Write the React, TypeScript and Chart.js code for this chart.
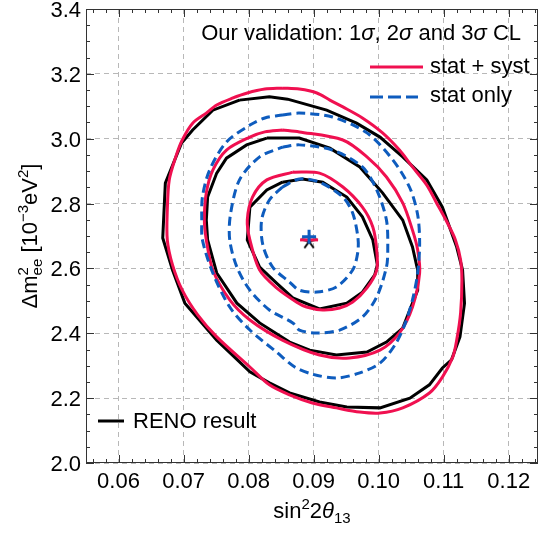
import React, { useEffect, useRef } from "react";
import { Chart, registerables } from "chart.js";

Chart.register(...registerables);

const FONT = '"Liberation Sans", Arial, Helvetica, sans-serif';
const RED = "rgb(240,16,80)";
const BLUE = "rgb(14,92,190)";
const BLACK = "#000000";

// axes
const xTickValues = [0.06, 0.07, 0.08, 0.09, 0.1, 0.11, 0.12];
const yTickValues = [2.0, 2.2, 2.4, 2.6, 2.8, 3.0, 3.2, 3.4];
const xMin = 0.055;
const xMax = 0.1245;
const yMin = 2.0;
const yMax = 3.4;

// RENO result (black polygons)
const renoOuter: [number, number][] = [
  [0.0786, 3.119], [0.0832, 3.129], [0.086, 3.122], [0.092, 3.088], [0.0966, 3.048],
  [0.1002, 3.005], [0.1037, 2.944], [0.1074, 2.873], [0.1098, 2.789], [0.112, 2.666],
  [0.1129, 2.595], [0.1132, 2.493], [0.1125, 2.389], [0.1112, 2.318], [0.1098, 2.293],
  [0.1078, 2.241], [0.1048, 2.2], [0.1002, 2.17], [0.0951, 2.173], [0.0909, 2.188],
  [0.0863, 2.216], [0.0832, 2.247], [0.0802, 2.281], [0.0751, 2.379], [0.0702, 2.493],
  [0.0683, 2.595], [0.0668, 2.694], [0.0672, 2.863], [0.0697, 2.987], [0.0714, 3.027],
  [0.0745, 3.088],
];
const renoMiddle: [number, number][] = [
  [0.0828, 3.002], [0.0878, 3.002], [0.0925, 2.971], [0.0971, 2.913], [0.1006, 2.833],
  [0.1037, 2.749], [0.1052, 2.666], [0.106, 2.595], [0.106, 2.533], [0.1052, 2.493],
  [0.1037, 2.416], [0.1012, 2.373], [0.0982, 2.342], [0.0935, 2.333], [0.0894, 2.348],
  [0.0863, 2.373], [0.0817, 2.432], [0.0782, 2.493], [0.0751, 2.586], [0.0737, 2.688],
  [0.0735, 2.749], [0.0737, 2.82], [0.0751, 2.894], [0.0766, 2.94], [0.0797, 2.981],
];
const renoInner: [number, number][] = [
  [0.0852, 2.866], [0.0883, 2.876], [0.0914, 2.866], [0.0951, 2.82], [0.0975, 2.759],
  [0.0991, 2.688], [0.0998, 2.611], [0.0994, 2.58], [0.0975, 2.527], [0.0951, 2.493],
  [0.0909, 2.475], [0.0868, 2.509], [0.0843, 2.555], [0.0817, 2.604], [0.0798, 2.688],
  [0.0802, 2.789], [0.0828, 2.842],
];

// stat + syst (red)
const systOuter: [number, number][] = [
  [0.0852, 3.156], [0.0878, 3.153], [0.0905, 3.141], [0.0925, 3.119], [0.0945, 3.098],
  [0.0975, 3.064], [0.1006, 3.018], [0.1032, 2.965], [0.1052, 2.913], [0.1074, 2.857],
  [0.1089, 2.802], [0.1105, 2.743], [0.1118, 2.688], [0.1126, 2.626], [0.1128, 2.564],
  [0.1126, 2.463], [0.112, 2.379], [0.1114, 2.327], [0.1098, 2.265], [0.1078, 2.216],
  [0.1037, 2.17], [0.1002, 2.154], [0.0971, 2.157], [0.0935, 2.17], [0.0898, 2.185],
  [0.0863, 2.21], [0.0832, 2.241], [0.0802, 2.296], [0.0751, 2.389], [0.0722, 2.456],
  [0.0698, 2.533], [0.0683, 2.611], [0.0675, 2.688], [0.0675, 2.78], [0.0678, 2.873],
  [0.0688, 2.944], [0.0698, 2.996], [0.0714, 3.048], [0.0735, 3.079], [0.0751, 3.104],
  [0.0775, 3.125], [0.0798, 3.141], [0.0825, 3.153],
];
const systMiddle: [number, number][] = [
  [0.0852, 3.027], [0.0878, 3.021], [0.0945, 2.996], [0.0982, 2.944], [0.1012, 2.882],
  [0.1037, 2.802], [0.1052, 2.718], [0.106, 2.657], [0.1063, 2.586], [0.1052, 2.481],
  [0.1032, 2.401], [0.1002, 2.348], [0.0955, 2.324], [0.0909, 2.333], [0.0852, 2.379],
  [0.0802, 2.441], [0.0771, 2.503], [0.0745, 2.595], [0.0735, 2.688], [0.0732, 2.749],
  [0.0735, 2.833], [0.0745, 2.903], [0.0766, 2.965], [0.0802, 3.005], [0.0825, 3.021],
];
const systInner: [number, number][] = [
  [0.0868, 2.897], [0.0909, 2.894], [0.0945, 2.851], [0.0975, 2.789], [0.0991, 2.728],
  [0.0997, 2.657], [0.0997, 2.595], [0.0982, 2.54], [0.096, 2.496], [0.094, 2.478],
  [0.0914, 2.472], [0.0889, 2.481], [0.0874, 2.496], [0.0843, 2.54], [0.0817, 2.595],
  [0.0802, 2.688], [0.0798, 2.749], [0.0806, 2.82], [0.0828, 2.873],
];

// stat only (blue dashed)
const statOuter: [number, number][] = [
  [0.0852, 3.073], [0.0878, 3.079], [0.0929, 3.067], [0.0982, 3.018], [0.1022, 2.934],
  [0.1048, 2.848], [0.106, 2.765], [0.1063, 2.678], [0.106, 2.586], [0.1052, 2.503],
  [0.104, 2.426], [0.1025, 2.364], [0.1002, 2.308], [0.0971, 2.278], [0.0935, 2.262],
  [0.0898, 2.274], [0.0871, 2.296], [0.0843, 2.342], [0.0802, 2.41], [0.0771, 2.481],
  [0.0745, 2.586], [0.0729, 2.688], [0.0728, 2.749], [0.0729, 2.82], [0.074, 2.903],
  [0.0766, 2.99], [0.0802, 3.042], [0.0825, 3.064],
];
const statMiddle: [number, number][] = [
  [0.0852, 2.974], [0.0878, 2.981], [0.0929, 2.965], [0.0975, 2.913], [0.0997, 2.842],
  [0.1012, 2.749], [0.1014, 2.657], [0.1012, 2.604], [0.0997, 2.512], [0.0975, 2.45],
  [0.094, 2.41], [0.0905, 2.401], [0.0878, 2.41], [0.0868, 2.432], [0.0832, 2.472],
  [0.0802, 2.533], [0.0782, 2.604], [0.0771, 2.688], [0.0772, 2.765], [0.0786, 2.873],
  [0.0817, 2.944],
];
const statInner: [number, number][] = [
  [0.0852, 2.851], [0.0878, 2.876], [0.0909, 2.866], [0.0945, 2.82], [0.096, 2.771],
  [0.0968, 2.697], [0.0968, 2.651], [0.096, 2.595], [0.0935, 2.543], [0.0905, 2.527],
  [0.0878, 2.533], [0.0863, 2.558], [0.0837, 2.604], [0.0822, 2.672], [0.082, 2.749],
  [0.0832, 2.811],
];

// best fit points
const bestFitReno: [number, number] = [0.0893, 2.683];
const bestFitSyst: [number, number] = [0.0893, 2.688];
const bestFitStat: [number, number] = [0.0893, 2.698];

const closed = (pts: [number, number][]) =>
  pts.concat([pts[0]]).map(([x, y]) => ({ x, y }));

function makeAsterisk(color: string, r: number, lw: number) {
  const c = document.createElement("canvas");
  const s = Math.ceil(2 * r + 4);
  c.width = s;
  c.height = s;
  const g = c.getContext("2d")!;
  g.strokeStyle = color;
  g.lineWidth = lw;
  g.lineCap = "butt";
  g.beginPath();
  for (let k = 0; k < 5; k++) {
    const ang = -Math.PI / 2 + (k * 2 * Math.PI) / 5;
    g.moveTo(s / 2, s / 2);
    g.lineTo(s / 2 + r * Math.cos(ang), s / 2 + r * Math.sin(ang));
  }
  g.stroke();
  return c;
}

type Seg = { t: string; size?: number; dy?: number; italic?: boolean; stack?: boolean };

function segFont(s: Seg) {
  return `${s.italic ? "italic " : ""}${s.size ?? 22}px ${FONT}`;
}

function drawRich(
  ctx: CanvasRenderingContext2D,
  segs: Seg[],
  x: number,
  y: number,
  align: "left" | "right" | "center"
) {
  let w = 0;
  let prevStart = 0;
  let prevW = 0;
  const starts: number[] = [];
  for (const s of segs) {
    ctx.font = segFont(s);
    const m = ctx.measureText(s.t).width;
    if (s.stack) {
      starts.push(prevStart);
      const nw = Math.max(prevW, m);
      w = prevStart + nw;
      prevW = nw;
    } else {
      starts.push(w);
      prevStart = w;
      prevW = m;
      w += m;
    }
  }
  const x0 = align === "left" ? x : align === "right" ? x - w : x - w / 2;
  ctx.textAlign = "left";
  ctx.textBaseline = "alphabetic";
  segs.forEach((s, i) => {
    ctx.font = segFont(s);
    ctx.fillText(s.t, x0 + starts[i], y + (s.dy ?? 0));
  });
}

const overlayPlugin = {
  id: "overlay",
  afterDraw(chart: any) {
    const { ctx, chartArea: a, scales } = chart;
    const xs = scales.x;
    const ys = scales.y;
    ctx.save();
    // frame
    ctx.strokeStyle = "#333";
    ctx.lineWidth = 1;
    ctx.setLineDash([]);
    ctx.strokeRect(a.left + 0.5, a.top + 0.5, a.right - a.left - 1, a.bottom - a.top - 1);
    // ticks on all sides, inward
    ctx.beginPath();
    for (let i = 28; i * 0.002 <= xMax + 1e-9; i++) {
      const v = i * 0.002;
      const major = i % 5 === 0;
      const len = major ? 8 : 4;
      const px = Math.round(xs.getPixelForValue(v)) + 0.5;
      ctx.moveTo(px, a.bottom);
      ctx.lineTo(px, a.bottom - len);
      ctx.moveTo(px, a.top);
      ctx.lineTo(px, a.top + len);
    }
    for (let i = 40; i <= 68; i++) {
      const v = i * 0.05;
      const major = i % 4 === 0;
      const len = major ? 8 : 4;
      const py = Math.round(ys.getPixelForValue(v)) + 0.5;
      ctx.moveTo(a.left, py);
      ctx.lineTo(a.left + len, py);
      ctx.moveTo(a.right, py);
      ctx.lineTo(a.right - len, py);
    }
    ctx.stroke();

    ctx.fillStyle = "#000";
    // tick labels from the scales' ticks
    xs.ticks.forEach((t: any) => {
      const px = xs.getPixelForValue(t.value);
      drawRich(ctx, [{ t: Number(t.value).toFixed(2) }], px, a.bottom + 25, "center");
    });
    ys.ticks.forEach((t: any) => {
      const py = ys.getPixelForValue(t.value);
      drawRich(ctx, [{ t: Number(t.value).toFixed(1) }], a.left - 5, py + 8, "right");
    });

    // title
    drawRich(
      ctx,
      [
        { t: "Our validation: 1" },
        { t: "σ", italic: true },
        { t: ", 2" },
        { t: "σ", italic: true },
        { t: " and 3" },
        { t: "σ", italic: true },
        { t: " CL" },
      ],
      521,
      40,
      "right"
    );
    // legend: stat + syst
    ctx.lineWidth = 3;
    ctx.strokeStyle = RED;
    ctx.beginPath();
    ctx.moveTo(370, 67);
    ctx.lineTo(423, 67);
    ctx.stroke();
    drawRich(ctx, [{ t: "stat + syst" }], 430, 73, "left");
    // legend: stat only
    ctx.strokeStyle = BLUE;
    ctx.setLineDash([13, 5]);
    ctx.beginPath();
    ctx.moveTo(370, 97);
    ctx.lineTo(418, 97);
    ctx.stroke();
    ctx.setLineDash([]);
    drawRich(ctx, [{ t: "stat only" }], 430, 102, "left");
    // legend: RENO
    ctx.strokeStyle = BLACK;
    ctx.beginPath();
    ctx.moveTo(98, 421);
    ctx.lineTo(124, 421);
    ctx.stroke();
    drawRich(ctx, [{ t: "RENO result" }], 133, 428, "left");

    // x axis title
    drawRich(
      ctx,
      [
        { t: "sin" },
        { t: "2", size: 15, dy: -9 },
        { t: "2" },
        { t: "θ", italic: true },
        { t: "13", size: 15, dy: 5 },
      ],
      (a.left + a.right) / 2,
      518,
      "center"
    );
    // y axis title
    ctx.save();
    ctx.translate(37, (a.top + a.bottom) / 2);
    ctx.rotate(-Math.PI / 2);
    drawRich(
      ctx,
      [
        { t: "Δm" },
        { t: "2", size: 15, dy: -9 },
        { t: "ee", size: 15, dy: 5, stack: true },
        { t: " [10" },
        { t: "−3", size: 15, dy: -9 },
        { t: "eV" },
        { t: "2", size: 15, dy: -9 },
        { t: "]" },
      ],
      0,
      0,
      "center"
    );
    ctx.restore();
    ctx.restore();
  },
};

export default function App() {
  const ref = useRef<HTMLCanvasElement | null>(null);
  useEffect(() => {
    if (!ref.current) return;
    const asterisk = makeAsterisk(BLACK, 8, 2);
    const line = (
      label: string,
      pts: [number, number][],
      color: string,
      order: number,
      dashed: boolean,
      tension: number
    ) => ({
      type: "scatter" as const,
      label,
      data: closed(pts),
      showLine: true,
      borderColor: color,
      backgroundColor: color,
      borderWidth: 3,
      borderDash: dashed ? [9, 5] : [],
      pointRadius: 0,
      tension,
      fill: false,
      order,
    });
    const chart = new Chart(ref.current, {
      type: "scatter",
      data: {
        datasets: [
          line("RENO 3σ", renoOuter, BLACK, 30, false, 0),
          line("RENO 2σ", renoMiddle, BLACK, 30, false, 0),
          line("RENO 1σ", renoInner, BLACK, 30, false, 0),
          line("stat+syst 3σ", systOuter, RED, 20, false, 0.3),
          line("stat+syst 2σ", systMiddle, RED, 20, false, 0.3),
          line("stat+syst 1σ", systInner, RED, 20, false, 0.3),
          line("stat 3σ", statOuter, BLUE, 10, true, 0.3),
          line("stat 2σ", statMiddle, BLUE, 10, true, 0.3),
          line("stat 1σ", statInner, BLUE, 10, true, 0.3),
          {
            type: "scatter",
            label: "RENO best fit",
            data: [{ x: bestFitReno[0], y: bestFitReno[1] }],
            pointStyle: asterisk as any,
            pointRadius: 8,
            order: 5,
          },
          {
            type: "scatter",
            label: "stat+syst best fit",
            data: [{ x: bestFitSyst[0], y: bestFitSyst[1] }],
            pointStyle: "line",
            pointRadius: 9,
            borderWidth: 3,
            borderColor: RED,
            backgroundColor: RED,
            order: 4,
          },
          {
            type: "scatter",
            label: "stat best fit",
            data: [{ x: bestFitStat[0], y: bestFitStat[1] }],
            pointStyle: "cross",
            pointRadius: 7,
            borderWidth: 3,
            borderColor: BLUE,
            backgroundColor: BLUE,
            order: 1,
          },
        ],
      },
      options: {
        animation: false,
        responsive: false,
        devicePixelRatio: 1,
        events: [],
        layout: { padding: { left: 0, top: 9, right: 1, bottom: 0 }, autoPadding: false },
        plugins: { legend: { display: false }, tooltip: { enabled: false } },
        scales: {
          x: {
            type: "linear",
            min: xMin,
            max: xMax,
            afterBuildTicks: (s: any) => {
              s.ticks = xTickValues.map((v) => ({ value: v }));
            },
            afterFit: (s: any) => {
              s.height = 70;
              s.paddingLeft = 0;
              s.paddingRight = 0;
            },
            ticks: { display: false },
            grid: { color: "#b8b8b8", lineWidth: 1, drawTicks: false },
            border: { display: false, dash: [5, 4] },
          },
          y: {
            type: "linear",
            min: yMin,
            max: yMax,
            afterBuildTicks: (s: any) => {
              s.ticks = yTickValues.map((v) => ({ value: v }));
            },
            afterFit: (s: any) => {
              s.width = 86;
              s.paddingTop = 0;
              s.paddingBottom = 0;
            },
            ticks: { display: false },
            grid: { color: "#b8b8b8", lineWidth: 1, drawTicks: false },
            border: { display: false, dash: [5, 4] },
          },
        },
      },
      plugins: [overlayPlugin],
    } as any);
    return () => chart.destroy();
  }, []);
  return (
    <div style={{ position: "fixed", left: 0, top: 0, width: 539, height: 533, background: "#fff" }}>
      <canvas ref={ref} width={539} height={533} style={{ display: "block" }} />
    </div>
  );
}
